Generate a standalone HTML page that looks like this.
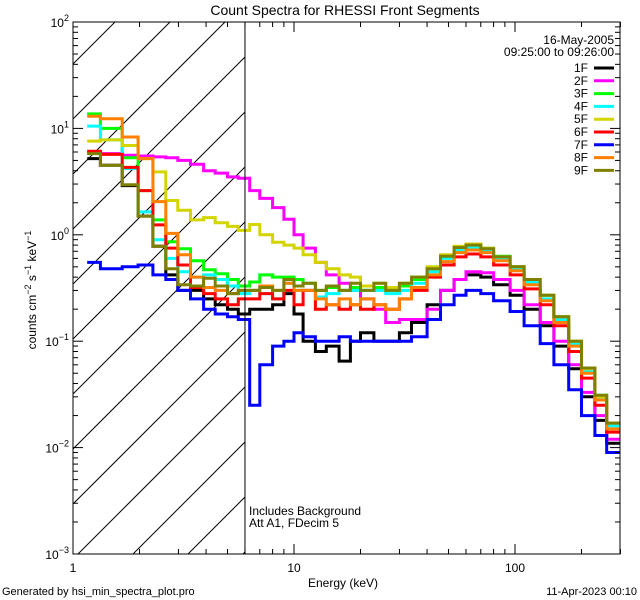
<!DOCTYPE html>
<html><head><meta charset="utf-8"><style>
html,body{margin:0;padding:0;background:#fff;overflow:hidden;width:640px;height:600px}
svg{display:block}
svg text{font-family:"Liberation Sans",sans-serif;fill:#000}
</style></head><body>
<svg id="chart" width="640" height="600" xmlns="http://www.w3.org/2000/svg">
<rect width="640" height="600" fill="#fff"/>
<text x="345" y="15" font-size="14" text-anchor="middle">Count Spectra for RHESSI Front Segments</text>
<g id="hatch"></g>
<g id="series"></g>
<g id="axes"></g>
<g id="legend"></g>
<text x="249" y="515" font-size="12">Includes Background</text>
<text x="249" y="527" font-size="12">Att A1, FDecim 5</text>
<text x="343" y="587" font-size="12" text-anchor="middle">Energy (keV)</text>
<text transform="translate(36,290) rotate(-90)" font-size="12" text-anchor="middle">counts cm<tspan dy="-5" font-size="9">−2</tspan><tspan dy="5"> s</tspan><tspan dy="-5" font-size="9">−1</tspan><tspan dy="5"> keV</tspan><tspan dy="-5" font-size="9">−1</tspan></text>
<text x="2" y="595" font-size="11">Generated by hsi_min_spectra_plot.pro</text>
<text x="637" y="595" font-size="11" text-anchor="end">11-Apr-2023 00:10</text>
</svg>
<script>
const edges=[1.16,1.33,1.67,1.97,2.3,2.63,2.98,3.4,3.9,4.4,5.0,5.6,6.3,7,8,9,10,11,12.5,14,16,18,20,23,26,30,34,40,46,53,60,70,80,95,110,130,150,175,200,230,260,300];
const seriesNames=["1F","2F","3F","4F","5F","6F","7F","8F","9F"];
const seriesColors=["#000000","#ff00ff","#00ff00","#00ffff","#d4d400","#ff0000","#0000ff","#ff8000","#808000"];
const v1F=[5.2,4.5,2.9,1.5,0.78,0.42,0.3,0.3,0.25,0.22,0.2,0.18, 0.2,0.2,0.22,0.28,0.18,0.1,0.08,0.09,0.065,0.1,0.12,0.1,0.1,0.12,0.15, 0.22,0.3,0.38,0.42,0.4,0.34,0.27,0.2,0.14,0.09,0.055,0.03,0.018,0.011];
const v2F=[6.0,5.8,5.6,5.5,5.4,5.3,5.0,4.6,4.0,3.8,3.5,3.4, 2.6,2.2,1.8,1.4,1.0,0.75,0.55,0.42,0.35,0.3,0.25,0.2,0.15,0.16,0.16, 0.2,0.3,0.38,0.45,0.44,0.38,0.3,0.22,0.15,0.1,0.06,0.033,0.02,0.012];
const v3F=[13.7,10,5.3,2.6,1.38,0.86,0.74,0.57,0.47,0.43,0.38,0.33, 0.36,0.42,0.4,0.4,0.38,0.35,0.3,0.32,0.3,0.32,0.3,0.32,0.3,0.33,0.38, 0.48,0.64,0.76,0.8,0.75,0.63,0.5,0.38,0.27,0.17,0.1,0.056,0.031,0.017];
const v4F=[10.5,7.8,4.2,1.64,0.9,0.6,0.45,0.4,0.42,0.38,0.33,0.28, 0.3,0.28,0.25,0.35,0.3,0.3,0.26,0.28,0.3,0.3,0.3,0.3,0.28,0.3,0.35, 0.45,0.6,0.72,0.76,0.7,0.6,0.48,0.36,0.25,0.16,0.095,0.052,0.029,0.016];
const v5F=[7.6,7.8,6.9,5.2,3.9,2.1,1.7,1.38,1.45,1.3,1.2,1.1, 1.25,1.0,0.85,0.8,0.75,0.65,0.55,0.48,0.42,0.4,0.33,0.35,0.32,0.35,0.4, 0.5,0.65,0.78,0.82,0.75,0.62,0.5,0.38,0.27,0.17,0.1,0.055,0.03,0.017];
const v6F=[6.1,5.7,4.3,2.6,1.24,0.75,0.52,0.32,0.28,0.25,0.22,0.25, 0.25,0.28,0.25,0.3,0.22,0.3,0.2,0.22,0.2,0.22,0.2,0.22,0.2,0.25,0.3, 0.4,0.52,0.62,0.66,0.62,0.52,0.42,0.31,0.22,0.14,0.08,0.045,0.025,0.014];
const v7F=[0.55,0.48,0.5,0.52,0.42,0.38,0.3,0.25,0.2,0.18,0.17,0.16, 0.025,0.06,0.09,0.1,0.12,0.11,0.1,0.1,0.11,0.1,0.1,0.1,0.1,0.1,0.11, 0.16,0.22,0.27,0.3,0.28,0.24,0.19,0.14,0.095,0.06,0.035,0.02,0.013,0.009];
const v8F=[13,12.3,8.3,5.2,2.05,1.03,0.65,0.4,0.32,0.3,0.28,0.3, 0.3,0.33,0.3,0.35,0.3,0.3,0.25,0.22,0.25,0.22,0.25,0.22,0.2,0.25,0.32, 0.42,0.56,0.68,0.72,0.68,0.57,0.46,0.34,0.24,0.15,0.09,0.05,0.028,0.015];
const v9F=[5.8,4.5,2.95,1.5,0.78,0.48,0.34,0.33,0.39,0.33,0.28,0.3, 0.3,0.32,0.3,0.38,0.33,0.35,0.3,0.33,0.3,0.35,0.3,0.35,0.3,0.35,0.4, 0.48,0.63,0.76,0.8,0.74,0.62,0.5,0.38,0.27,0.17,0.1,0.056,0.031,0.017];
const seriesValues=[v1F,v2F,v3F,v4F,v5F,v6F,v7F,v8F,v9F];
const yTickExps=[2,1,0,-1,-2,-3];
const xTickLabels=["1","10","100"];
const xTickVals=[1,10,100];
const legendHeader=["16-May-2005","09:25:00 to 09:26:00"];

const NS="http://www.w3.org/2000/svg";
const L=73,R=620,T=22,B=554;
const XDEC=221, YDEC=106.4;
function xs(e){return L+Math.log10(e)*XDEC;}
function ys(v){return T+(2-Math.log10(v))*YDEC;}
function mk(tag,attrs,parent){const el=document.createElementNS(NS,tag);for(const k in attrs)el.setAttribute(k,attrs[k]);parent.appendChild(el);return el;}

const svg=document.getElementById('chart');
const defs=mk('defs',{},svg);
const pc=mk('clipPath',{id:'pc'},defs);
mk('rect',{x:L,y:T,width:R-L,height:B-T},pc);
const hg=document.getElementById('hatch');
const X6=xs(6);
for(let c=-600;c<400;c+=55){
  const x0=L+c;
  const xa=Math.max(L,x0), xb=Math.min(X6,x0+(B-T));
  if(xb<=xa) continue;
  const ln=mk('line',{x1:xa,y1:B-(xa-x0),x2:xb,y2:B-(xb-x0),stroke:'#000','stroke-width':1},hg);
  
  
}
const sg=document.getElementById('series');
sg.setAttribute('clip-path','url(#pc)');
seriesValues.forEach((vals,si)=>{
  let d='';
  vals.forEach((v,i)=>{
    const x0=xs(edges[i]).toFixed(1),x1=xs(edges[i+1]).toFixed(1),y=ys(v).toFixed(1);
    d+=(i===0?'M':'L')+x0+','+y+'L'+x1+','+y;
  });
  const p=mk('path',{d:d,fill:'none',stroke:seriesColors[si],'stroke-width':3,'stroke-linejoin':'miter'},sg);
  
  
});
const ag=document.getElementById('axes');
const fr=mk('rect',{x:L,y:T,width:R-L,height:B-T,fill:'none',stroke:'#000','stroke-width':1},ag);


const vl=mk('line',{x1:X6,y1:T,x2:X6,y2:B,stroke:'#000','stroke-width':1},ag);


for(let dec=1;dec<=100;dec*=10){
  for(let m=1;m<10;m++){
    const e=dec*m; if(e>300)break;
    const x=xs(e), len=m===1?10:5;
    mk('line',{x1:x,y1:B,x2:x,y2:B-len,stroke:'#000'},ag);
    mk('line',{x1:x,y1:T,x2:x,y2:T+len,stroke:'#000'},ag);
  }
}
xTickVals.forEach((v,i)=>{
  const t=mk('text',{x:xs(v),y:B+18,'font-size':12,'text-anchor':'middle'},ag);
  t.textContent=xTickLabels[i];
  
  
});
yTickExps.forEach(ex=>{
  for(let m=1;m<10;m++){
    const v=Math.pow(10,ex)*m; if(v>100)break;
    const y=ys(v), len=m===1?10:5;
    mk('line',{x1:L,y1:y,x2:L+len,y2:y,stroke:'#000'},ag);
    mk('line',{x1:R,y1:y,x2:R-len,y2:y,stroke:'#000'},ag);
  }
  const t=mk('text',{x:L-4,y:ys(Math.pow(10,ex))+5,'font-size':12,'text-anchor':'end'},ag);
  
  
  const a=document.createElementNS(NS,'tspan');a.textContent='10';t.appendChild(a);
  const b=document.createElementNS(NS,'tspan');b.setAttribute('dy','-6');b.setAttribute('font-size','9');b.textContent=String(ex).replace('-','−');t.appendChild(b);
});
const lg=document.getElementById('legend');
legendHeader.forEach((s,i)=>{
  const t=mk('text',{x:614,y:44+i*12,'font-size':12,'text-anchor':'end'},lg);
  t.textContent=s;
  
  
});
seriesNames.forEach((n,i)=>{
  const y=68+i*12.8;
  const t=mk('text',{x:588,y:y+4,'font-size':12,'text-anchor':'end'},lg);
  t.textContent=n;
  
  
  const l=mk('line',{x1:594,y1:y,x2:614,y2:y,stroke:seriesColors[i],'stroke-width':3},lg);
  
  
});
</script>
</body></html>
